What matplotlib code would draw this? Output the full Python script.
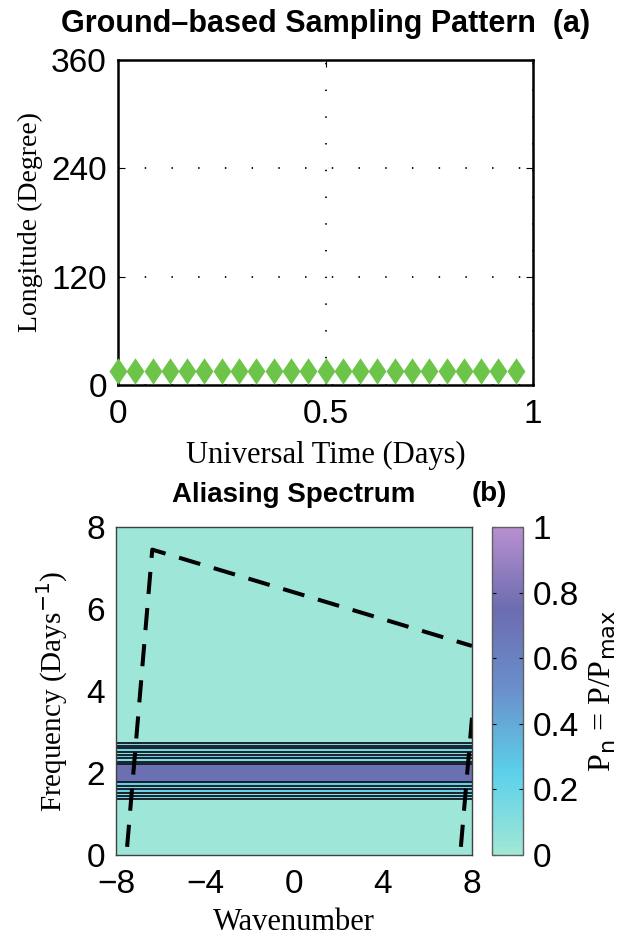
import matplotlib
matplotlib.use("Agg")
import matplotlib.pyplot as plt
import numpy as np
from matplotlib.colors import LinearSegmentedColormap
from matplotlib.path import Path

# panel (a): ground-based sampling (hourly, one station)
sample_time = [i / 24 for i in range(24)]
sample_lon = [15] * 24
lon_ticks = [0, 120, 240, 360]
time_ticks = [0, 0.5, 1]
time_ticklabels = ["0", "0.5", "1"]

# panel (b): aliasing spectrum, power constant along wavenumber
wavenumber_edges = [-8, 8]
freq_edges = [0, 1.36, 1.44, 1.52, 1.60, 1.68, 1.77, 2.21, 2.28, 2.36,
              2.44, 2.52, 2.60, 2.67, 2.74, 8]
band_power = [0.02, 0.18, 0.10, 0.22, 0.12, 0.24, 0.72, 0.24, 0.12, 0.22,
              0.10, 0.18, 0.10, 0.16, 0.02]
limit_k1 = [-7.5, -6.37, 8]
limit_f1 = [0.2, 7.45, 5.1]
limit_k2 = [7.5, 8]
limit_f2 = [0.2, 3.35]
k_ticks = [-8, -4, 0, 4, 8]
f_ticks = [0, 2, 4, 6, 8]
cbar_ticks = [0, 0.2, 0.4, 0.6, 0.8, 1]

SANS = "Liberation Sans"
SERIF = "Liberation Serif"
TICK_FS = 24

cmap = LinearSegmentedColormap.from_list(
    "alias",
    [(0.0, "#a2e8d6"), (0.25, "#5cd0ea"), (0.5, "#6a90cc"),
     (0.75, "#6b6cb0"), (1.0, "#b890d0")],
)

fig = plt.figure(figsize=(6.29, 9.36), dpi=100)

# ---- (a)
ax1 = fig.add_axes([0.1876, 0.5887, 0.6598, 0.3472])
diamond = Path([(0, 1), (0.68, 0), (0, -1), (-0.68, 0), (0, 1)],
               [Path.MOVETO, Path.LINETO, Path.LINETO, Path.LINETO, Path.CLOSEPOLY])
ax1.plot(sample_time, sample_lon, linestyle="none", marker=diamond,
         markersize=19, color="#6cc449", markeredgewidth=0, clip_on=False, zorder=3)
ax1.set_xlim(0, 1)
ax1.set_ylim(0, 360)
ax1.set_xticks(time_ticks)
ax1.set_xticklabels(time_ticklabels)
ax1.set_yticks(lon_ticks)
ax1.grid(True, color="black", linestyle=(0, (0.8, 14)), linewidth=1.3)
ax1.tick_params(direction="in", length=5, labelsize=TICK_FS, pad=10,
                top=True, right=True)
ax1.tick_params(axis="y", pad=8)
for lab in ax1.get_xticklabels() + ax1.get_yticklabels():
    lab.set_family(SANS)
for sp in ax1.spines.values():
    sp.set_linewidth(1.8)
ax1.set_xlabel("Universal Time (Days)", family=SERIF, fontsize=22, labelpad=8)
ax1.set_ylabel("Longitude (Degree)", family=SERIF, fontsize=20, labelpad=6)
ax1.set_title("Ground\u2013based Sampling Pattern  (a)", family=SANS,
              fontweight="bold", fontsize=22, pad=20)

# ---- (b)
ax2 = fig.add_axes([0.1844, 0.0865, 0.566, 0.3504])
power = np.array(band_power)[:, None]
mesh = ax2.pcolormesh(wavenumber_edges, freq_edges, power, cmap=cmap,
                      vmin=0, vmax=1, shading="flat")
ax2.hlines(freq_edges[1:-1], -8, 8, colors="#141420", linewidth=1.3)
ax2.plot(limit_k1, limit_f1, color="black", linestyle=(0, (5.5, 3.5)), linewidth=2.9)
ax2.plot(limit_k2, limit_f2, color="black", linestyle=(0, (5.5, 3.5)), linewidth=2.9)
ax2.set_xlim(-8, 8)
ax2.set_ylim(0, 8)
ax2.set_xticks(k_ticks)
ax2.set_xticklabels(["\u22128", "\u22124", "0", "4", "8"])
ax2.set_yticks(f_ticks)
ax2.tick_params(direction="in", length=0, labelsize=TICK_FS, pad=10)
ax2.tick_params(axis="y", pad=8)
for lab in ax2.get_xticklabels() + ax2.get_yticklabels():
    lab.set_family(SANS)
for sp in ax2.spines.values():
    sp.set_linewidth(1.0)
    sp.set_color("#404040")
ax2.set_xlabel("Wavenumber", family=SERIF, fontsize=22, labelpad=6)
ax2.set_ylabel("Frequency (Days$^{-1}$)", family=SERIF, fontsize=21,
               labelpad=12)
ax2.set_title("Aliasing Spectrum", family=SANS, fontweight="bold",
              fontsize=20, pad=18)
ax2.text(1.05, 1.06, "(b)", transform=ax2.transAxes, family=SANS,
         fontweight="bold", fontsize=20, ha="center", va="bottom")

cax = fig.add_axes([0.7822, 0.0865, 0.0493, 0.3504])
cb = fig.colorbar(mesh, cax=cax, ticks=cbar_ticks)
cb.ax.set_yticklabels(["0", "0.2", "0.4", "0.6", "0.8", "1"])
cb.ax.tick_params(direction="in", length=3, labelsize=TICK_FS, pad=7,
                  left=True)
for lab in cb.ax.get_yticklabels():
    lab.set_family(SANS)
cb.outline.set_linewidth(1.0)
cb.outline.set_edgecolor("#606060")
cb.set_label("P$_\\mathrm{n}$ = P/P$_\\mathrm{max}$", family=SERIF,
             fontsize=23, labelpad=6)

fig.savefig("out.png", dpi=100)
